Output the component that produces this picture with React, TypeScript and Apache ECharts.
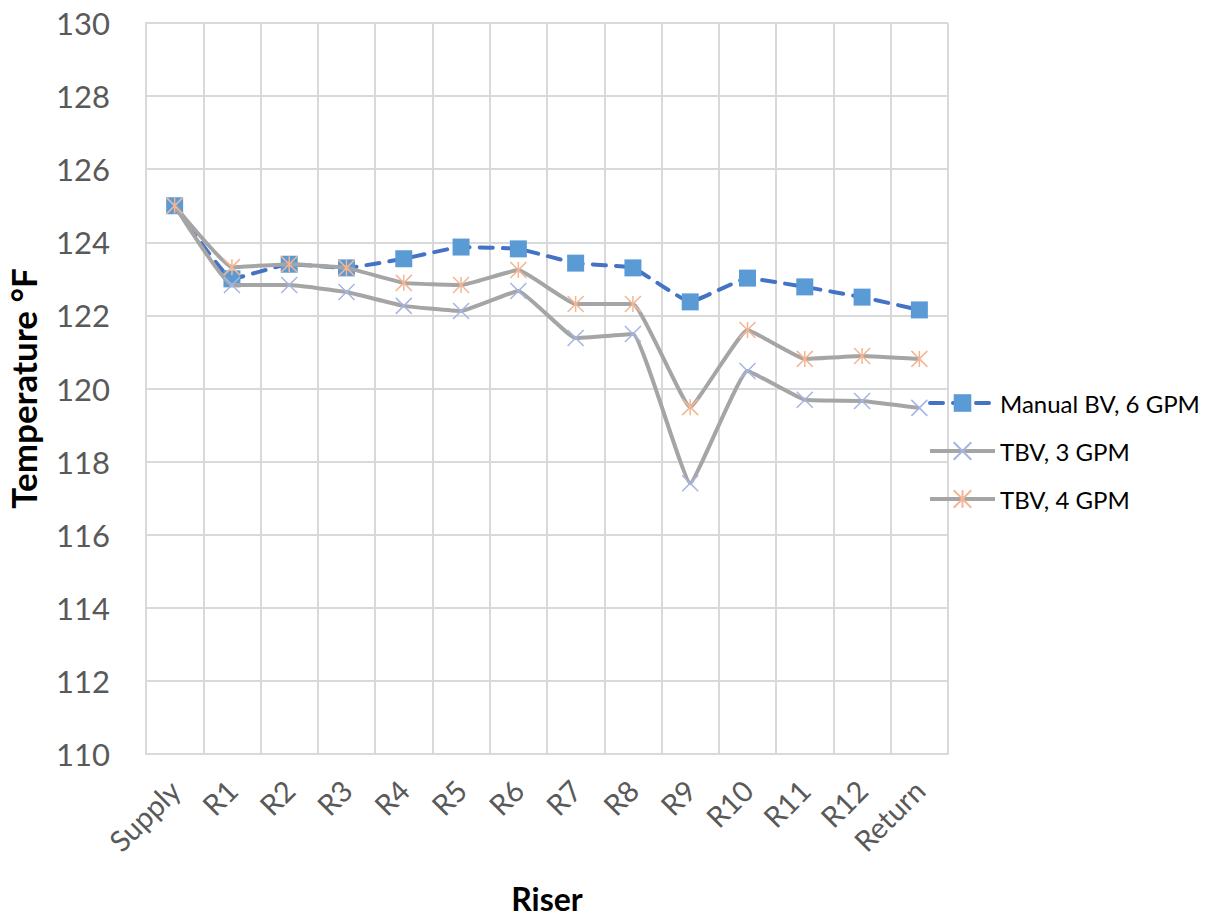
import React, { useEffect, useRef } from "react";
import * as echarts from "echarts";

const categories = ["Supply", "R1", "R2", "R3", "R4", "R5", "R6", "R7", "R8", "R9", "R10", "R11", "R12", "Return"];
const manualBV6 = [125.0, 123.0, 123.4, 123.3, 123.55, 123.87, 123.82, 123.43, 123.3, 122.37, 123.02, 122.78, 122.5, 122.15];
const tbv3 = [125.0, 122.83, 122.83, 122.64, 122.26, 122.12, 122.67, 121.38, 121.49, 117.41, 120.48, 119.69, 119.66, 119.47];
const tbv4 = [125.0, 123.32, 123.4, 123.3, 122.89, 122.83, 123.24, 122.31, 122.31, 119.49, 121.6, 120.81, 120.89, 120.81];
const seriesNames = ["Manual BV, 6 GPM", "TBV, 3 GPM", "TBV, 4 GPM"];

const FONT = "Lato";
const X_SYMBOL = "path://M0,0L10,10M10,0L0,10";
const STAR_SYMBOL = "path://M0,0L10,10M10,0L0,10M5,0L5,10";

export default function App() {
  const ref = useRef<HTMLDivElement>(null);
  useEffect(() => {
    if (!ref.current) return;
    const chart = echarts.init(ref.current, null, { renderer: "svg" });
    chart.setOption({
      animation: false,
      backgroundColor: "#ffffff",
      textStyle: { fontFamily: FONT },
      grid: { left: 146, right: 269, top: 23, bottom: 166, containLabel: false, outerBoundsMode: "none" },
      legend: {
        orient: "vertical",
        left: 923,
        top: 386,
        itemWidth: 65,
        itemHeight: 22,
        itemGap: 24,
        lineStyle: { width: 4 },
        textStyle: { fontFamily: FONT, fontSize: 24, color: "#000000" },
        data: seriesNames,
      },
      xAxis: {
        type: "category",
        data: categories,
        boundaryGap: true,
        axisLine: { show: true, lineStyle: { color: "#D9D9D9", width: 2 } },
        axisTick: { show: false },
        splitLine: { show: true, lineStyle: { color: "#D9D9D9", width: 2 } },
        axisLabel: {
          rotate: 45,
          interval: 0,
          margin: 31,
          fontFamily: FONT,
          fontSize: 29,
          color: "#595959",
        },
        name: "Riser",
        nameLocation: "middle",
        nameGap: 128,
        nameTextStyle: { fontFamily: FONT, fontSize: 32, fontWeight: "bold", color: "#000000" },
      },
      yAxis: {
        type: "value",
        min: 110,
        max: 130,
        interval: 2,
        axisLine: { show: true, lineStyle: { color: "#D9D9D9", width: 2 } },
        axisTick: { show: false },
        splitLine: { show: true, lineStyle: { color: "#D9D9D9", width: 2 } },
        axisLabel: { margin: 36, fontFamily: FONT, fontSize: 31, color: "#595959" },
        name: "Temperature °F",
        nameLocation: "middle",
        nameGap: 106,
        nameTextStyle: { fontFamily: FONT, fontSize: 35, fontWeight: "bold", color: "#000000" },
      },
      series: [
        {
          name: seriesNames[0],
          type: "line",
          data: manualBV6,
          smooth: 0.1,
          symbol: "rect",
          symbolSize: 17,
          itemStyle: { color: "#5B9BD5" },
          lineStyle: { color: "#4472C4", width: 4, type: [13, 10], cap: "round" },
          z: 2,
        },
        {
          name: seriesNames[1],
          type: "line",
          data: tbv3,
          smooth: 0.1,
          symbol: X_SYMBOL,
          symbolSize: 16,
          itemStyle: { color: "#A6B4E2", borderColor: "#A6B4E2", borderWidth: 1.5 },
          lineStyle: { color: "#A5A5A5", width: 4 },
          z: 3,
        },
        {
          name: seriesNames[2],
          type: "line",
          data: tbv4,
          smooth: 0.1,
          symbol: STAR_SYMBOL,
          symbolSize: 16,
          itemStyle: { color: "#F4B594", borderColor: "#F4B594", borderWidth: 1.5 },
          lineStyle: { color: "#A5A5A5", width: 4 },
          z: 4,
        },
      ],
    });
    return () => chart.dispose();
  }, []);
  return <div ref={ref} style={{ width: 1217, height: 920, marginLeft: -8, marginTop: -8 }} />;
}
